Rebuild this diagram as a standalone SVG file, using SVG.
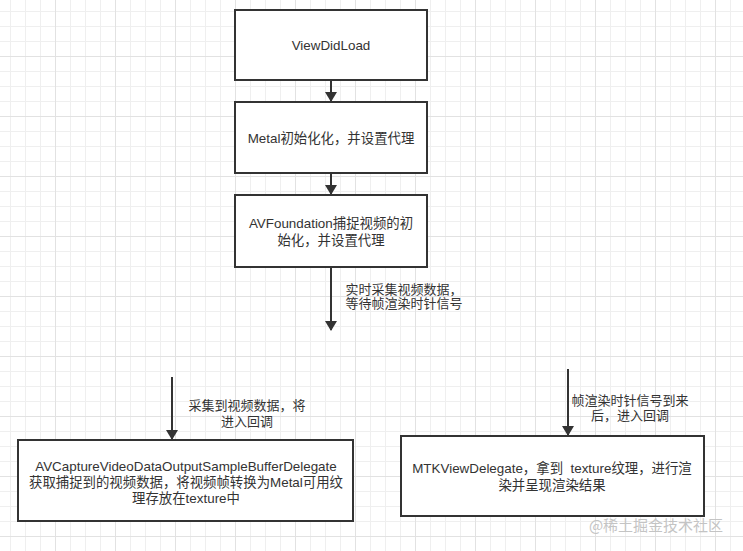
<svg xmlns="http://www.w3.org/2000/svg" width="743" height="551" viewBox="0 0 743 551">
<defs>
<pattern id="minor" width="15" height="15" patternUnits="userSpaceOnUse" x="10" y="11">
<path d="M0.5 0V15M0 0.5H15" fill="none" stroke="#efefef" stroke-width="1"/>
</pattern>
<pattern id="major" width="60" height="60" patternUnits="userSpaceOnUse" x="55" y="56">
<path d="M0.5 0V60M0 0.5H60" fill="none" stroke="#e2e2e2" stroke-width="1"/>
</pattern>
<marker id="arr" viewBox="0 0 10 12" refX="9" refY="6" markerWidth="5" markerHeight="6" orient="auto" markerUnits="strokeWidth">
<path d="M0 0L10 6L0 12Z" fill="#333"/>
</marker>
</defs>
<style>
.box{fill:#fff;stroke:#333;stroke-width:2}
.t{font-family:"Liberation Sans","Noto Sans CJK SC",sans-serif;font-size:13.4px;fill:#333;text-anchor:middle}
.lbl{font-family:"Liberation Sans","Noto Sans CJK SC",sans-serif;font-size:13px;fill:#333;text-anchor:middle}
.edge{stroke:#333;stroke-width:2;fill:none;marker-end:url(#arr)}
</style>
<rect width="743" height="551" fill="#fff"/>
<rect width="743" height="551" fill="url(#minor)"/>
<rect width="743" height="551" fill="url(#major)"/>

<g id="connectors">
<line class="edge" x1="331" y1="80" x2="331" y2="101"/>
<line class="edge" x1="331" y1="173" x2="331" y2="194"/>
<line class="edge" x1="331" y1="267" x2="331" y2="330"/>
<line class="edge" x1="172" y1="377" x2="172" y2="439"/>
<line class="edge" x1="568" y1="369" x2="568" y2="435"/>
<text class="lbl" x="404" y="294">实时采集视频数据，</text>
<text class="lbl" x="404" y="308">等待帧渲染时针信号</text>
<text class="lbl" x="247" y="410">采集到视频数据，将</text>
<text class="lbl" x="247" y="426">进入回调</text>
<text class="lbl" x="630" y="405">帧渲染时针信号到来</text>
<text class="lbl" x="630" y="420">后，进入回调</text>
</g>

<g id="viewDidLoad">
<rect class="box" x="235" y="10" width="192" height="70"/>
<text class="t" x="331" y="50">ViewDidLoad</text>
</g>
<g id="metalInit">
<rect class="box" x="235" y="102" width="192" height="71"/>
<text class="t" x="331" y="143">Metal初始化化，并设置代理</text>
</g>
<g id="avfInit">
<rect class="box" x="235" y="195" width="192" height="72"/>
<text class="t" x="331" y="228">AVFoundation捕捉视频的初</text>
<text class="t" x="331" y="245">始化，并设置代理</text>
</g>
<g id="captureDelegate">
<rect class="box" x="18" y="440" width="335" height="81"/>
<text class="t" x="186" y="471">AVCaptureVideoDataOutputSampleBufferDelegate</text>
<text class="t" x="186" y="487">获取捕捉到的视频数据，将视频帧转换为Metal可用纹</text>
<text class="t" x="186" y="503">理存放在texture中</text>
</g>
<g id="mtkDelegate">
<rect class="box" x="401" y="436" width="303" height="80"/>
<text class="t" x="552" y="473">MTKViewDelegate，拿到 &#160;texture纹理，进行渲</text>
<text class="t" x="552" y="490">染并呈现渲染结果</text>
</g>
<text x="656" y="531" style="font-family:'Noto Sans CJK SC',sans-serif;font-size:15px;fill:#c4c4c4;text-anchor:middle">@稀土掘金技术社区</text>
</svg>
